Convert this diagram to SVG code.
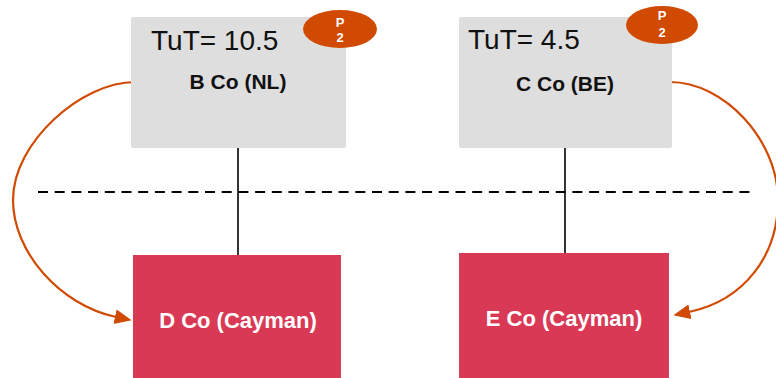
<svg xmlns="http://www.w3.org/2000/svg" width="776" height="378" viewBox="0 0 776 378">
  <style>
    .gray { fill: #DEDEDE; }
    .red { fill: #D93954; }
    .badge { fill: #D04A02; }
    .tut { font-family: "Liberation Sans", Arial, sans-serif; font-size: 28px; fill: #111; }
    .lbl { font-family: "Liberation Sans", Arial, sans-serif; font-size: 21px; font-weight: bold; fill: #111; text-anchor: middle; }
    .wlbl { font-family: "Liberation Sans", Arial, sans-serif; font-size: 22px; font-weight: bold; fill: #FFFFFF; text-anchor: middle; }
    .btxt { font-family: "Liberation Sans", Arial, sans-serif; font-size: 13px; font-weight: bold; fill: #FFFFFF; text-anchor: middle; }
    .tie { stroke: #000; stroke-width: 1.6; fill: none; }
    .flow { stroke: #D04A02; stroke-width: 2.2; fill: none; marker-end: url(#ah); }
  </style>
  <defs>
    <marker id="ah" markerUnits="userSpaceOnUse" markerWidth="18" markerHeight="16" refX="1" refY="7.5" orient="auto">
      <path d="M0,0 L17,7.5 L0,15 z" fill="#D04A02"/>
    </marker>
  </defs>

  <line x1="38" y1="192" x2="756" y2="192" stroke="#000" stroke-width="2.2" stroke-dasharray="10,6.7"/>

  <g id="connectors">
    <line class="tie" x1="238" y1="148" x2="238" y2="255"/>
    <line class="tie" x1="565" y1="148" x2="565" y2="253"/>
    <path class="flow" d="M135,82 C82,82 13,142 13,200 C13,252 60,305 116,317"/>
    <path class="flow" d="M670,82 C724,82 778,140 778,200 C778,255 745,300 689,312"/>
  </g>

  <g id="node-b">
    <rect class="gray" x="131" y="17" width="215" height="131" rx="2"/>
    <text class="tut" x="151" y="50">TuT= 10.5</text>
    <text class="lbl" x="238" y="89">B Co (NL)</text>
    <ellipse class="badge" cx="340" cy="29" rx="37" ry="19"/>
    <text class="btxt" x="340" y="27">P</text>
    <text class="btxt" x="340" y="42">2</text>
  </g>

  <g id="node-c">
    <rect class="gray" x="459" y="17" width="213" height="131" rx="2"/>
    <text class="tut" x="468" y="49">TuT= 4.5</text>
    <text class="lbl" x="565" y="91">C Co (BE)</text>
    <ellipse class="badge" cx="662" cy="25" rx="36" ry="19"/>
    <text class="btxt" x="662" y="20">P</text>
    <text class="btxt" x="662" y="37">2</text>
  </g>

  <g id="node-d">
    <rect class="red" x="133" y="255" width="208" height="123"/>
    <text class="wlbl" x="238" y="328">D Co (Cayman)</text>
  </g>

  <g id="node-e">
    <rect class="red" x="459" y="253" width="210" height="125"/>
    <text class="wlbl" x="564" y="326">E Co (Cayman)</text>
  </g>
</svg>
